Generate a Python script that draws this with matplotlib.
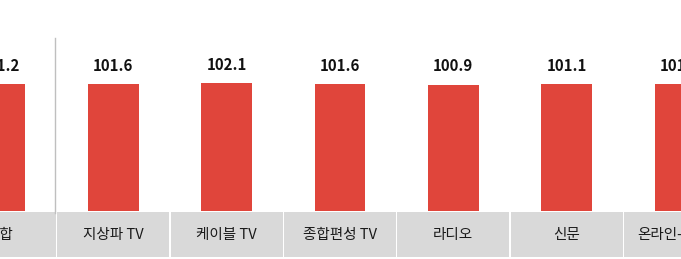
import matplotlib
matplotlib.use("Agg")
import matplotlib.pyplot as plt
from matplotlib.patches import Rectangle

plt.rcParams['font.family'] = ['Noto Sans CJK KR', 'DejaVu Sans']

categories = ["종합", "지상파 TV", "케이블 TV", "종합편성 TV", "라디오", "신문", "온라인-모바일"]
values = [101.2, 101.6, 102.1, 101.6, 100.9, 101.1, 101.0]
value_labels = ["101.2", "101.6", "102.1", "101.6", "100.9", "101.1", "101.0"]

W, H = 681, 259
fig = plt.figure(figsize=(W / 100, H / 100), dpi=100)
ax = fig.add_axes([0, 0, 1, 1])

pitch = 113.33          # px per category
scale = 1.2537          # px per value unit
base_px = 211           # baseline position from top (px)

ax.set_xlim(0, W / pitch)
ax.set_ylim(-(H - base_px) / scale, base_px / scale)
ax.axis('off')

bar_color = "#E0453B"
x = list(range(len(categories)))
ax.bar(x, values, width=50.7 / pitch, color=bar_color, linewidth=0, zorder=2)

for xi, v, lab in zip(x, value_labels, values):
    ax.annotate(v, (xi, lab), xytext=(0, 13), textcoords='offset points',
                ha='center', va='center', fontsize=10.8, fontweight='bold',
                color='#111111', zorder=3)

# category cells
gap = 0.8 / pitch
y_top = (base_px - 212.3) / scale
y_bot = (base_px - 257.0) / scale
for xi, cat in zip(x, categories):
    ax.add_patch(Rectangle((xi - 0.5 + gap, y_bot), 1 - 2 * gap, y_top - y_bot,
                           facecolor="#D9D9D9", edgecolor='none', zorder=1))
    ax.text(xi, (base_px - 235) / scale, cat, ha='center', va='center',
            fontsize=10.5, fontweight='medium', color='#1a1a1a', zorder=3)

# separator after the first category
sep_x = 55.2 / pitch
ax.plot([sep_x, sep_x], [(base_px - 38) / scale, (base_px - 213) / scale],
        color="#BFBFBF", linewidth=1.0, zorder=4)

fig.savefig("out.png", dpi=100)
